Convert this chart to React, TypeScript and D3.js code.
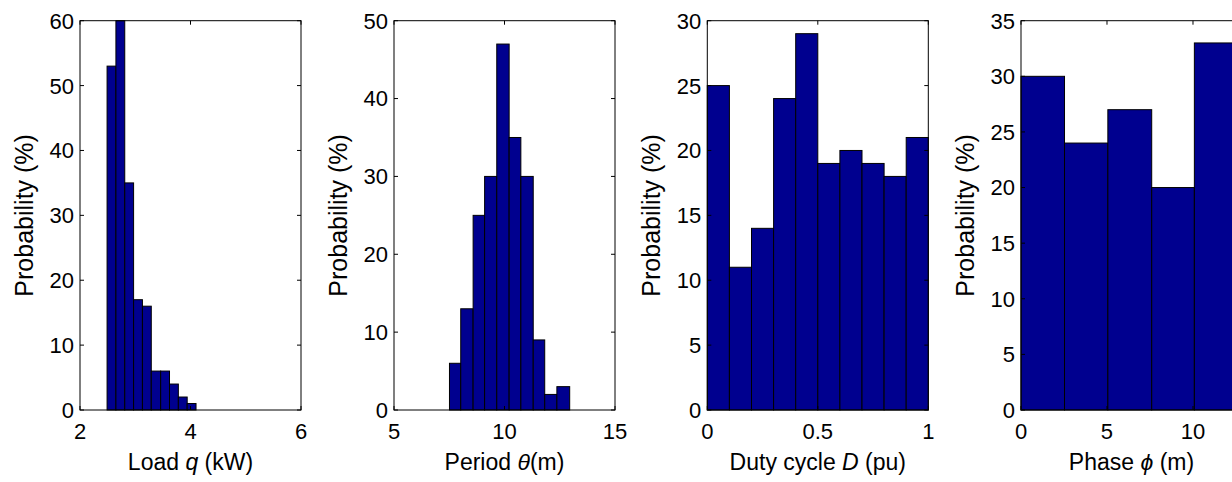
import React from 'react';
import * as d3 from 'd3';

const W = 1232;
const H = 482;

// ---- Data ----
const loadEdges = [2.49, 2.65, 2.81, 2.97, 3.13, 3.29, 3.46, 3.62, 3.78, 3.94, 4.1];
const loadProb = [53, 60, 35, 17, 16, 6, 6, 4, 2, 1];

const periodEdges = [7.51, 8.02, 8.58, 9.1, 9.65, 10.21, 10.74, 11.3, 11.82, 12.37, 12.95];
const periodProb = [6, 13, 25, 30, 47, 35, 30, 9, 2, 3];

const dutyEdges = [0, 0.1, 0.2, 0.3, 0.4, 0.5, 0.6, 0.7, 0.8, 0.9, 1.0];
const dutyProb = [25, 11, 14, 24, 29, 19, 20, 19, 18, 21];

const phaseEdges = [0, 2.53, 5.05, 7.6, 10.08, 12.6];
const phaseProb = [30, 24, 27, 20, 33];

const loadXTicks = [2, 4, 6];
const periodXTicks = [5, 10, 15];
const dutyXTicks = [0, 0.5, 1];
const phaseXTicks = [0, 5, 10];

const loadYTicks = [0, 10, 20, 30, 40, 50, 60];
const periodYTicks = [0, 10, 20, 30, 40, 50];
const dutyYTicks = [0, 5, 10, 15, 20, 25, 30];
const phaseYTicks = [0, 5, 10, 15, 20, 25, 30, 35];

type Panel = {
  edges: number[];
  values: number[];
  xDomain: [number, number];
  xTicks: number[];
  yTicks: number[];
  yMax: number;
  label: [string, string, string];
};

const panels: Panel[] = [
  { edges: loadEdges, values: loadProb, xDomain: [2, 6], xTicks: loadXTicks, yTicks: loadYTicks, yMax: 60, label: ['Load ', 'q', ' (kW)'] },
  { edges: periodEdges, values: periodProb, xDomain: [5, 15], xTicks: periodXTicks, yTicks: periodYTicks, yMax: 50, label: ['Period ', 'θ', '(m)'] },
  { edges: dutyEdges, values: dutyProb, xDomain: [0, 1], xTicks: dutyXTicks, yTicks: dutyYTicks, yMax: 30, label: ['Duty cycle ', 'D', ' (pu)'] },
  { edges: phaseEdges, values: phaseProb, xDomain: [0, 12.85], xTicks: phaseXTicks, yTicks: phaseYTicks, yMax: 35, label: ['Phase ', 'ϕ', ' (m)'] },
];

// ---- Layout ----
const panelLefts = [80, 394, 707.3, 1021];
const panelW = 221;
const top = 20.7;
const bottom = 410;
const tickLen = 4;
const font = 'Liberation Sans, Arial, Helvetica, sans-serif';
const barFill = '#00008F';
const tickFont = 22;
const xLabelFont = 23;
const yLabelFont = 25;

function HistPanel({ p, left }: { p: Panel; left: number }) {
  const x = d3.scaleLinear().domain(p.xDomain).range([left, left + panelW]);
  const y = d3.scaleLinear().domain([0, p.yMax]).range([bottom, top]);
  const fmt = (v: number) => String(v);
  return (
    <g>
      {p.values.map((v, i) => (
        <rect
          key={i}
          x={x(p.edges[i])}
          y={y(v)}
          width={x(p.edges[i + 1]) - x(p.edges[i])}
          height={y(0) - y(v)}
          fill={barFill}
          stroke="#000"
          strokeWidth={1}
        />
      ))}
      <rect x={left} y={top} width={panelW} height={bottom - top} fill="none" stroke="#000" strokeWidth={1} />
      {p.yTicks.map((t) => (
        <g key={'y' + t}>
          <line x1={left} x2={left + tickLen} y1={y(t)} y2={y(t)} stroke="#000" />
          <line x1={left + panelW} x2={left + panelW - tickLen} y1={y(t)} y2={y(t)} stroke="#000" />
          <text x={left - 6} y={y(t)} dy="0.36em" textAnchor="end" fontSize={tickFont} fontFamily={font} fill="#000">
            {fmt(t)}
          </text>
        </g>
      ))}
      {p.xTicks.map((t) => (
        <g key={'x' + t}>
          <line x1={x(t)} x2={x(t)} y1={bottom} y2={bottom - tickLen} stroke="#000" />
          <line x1={x(t)} x2={x(t)} y1={top} y2={top + tickLen} stroke="#000" />
          <text x={x(t)} y={439} textAnchor="middle" fontSize={tickFont} fontFamily={font} fill="#000">
            {fmt(t)}
          </text>
        </g>
      ))}
      <text x={left + panelW / 2} y={470} textAnchor="middle" fontSize={xLabelFont} fontFamily={font} fill="#000">
        {p.label[0]}
        <tspan fontStyle="italic">{p.label[1]}</tspan>
        {p.label[2]}
      </text>
      <text
        transform={`translate(${left - 47},${(top + bottom) / 2}) rotate(-90)`}
        textAnchor="middle"
        fontSize={yLabelFont}
        fontFamily={font}
        fill="#000"
      >
        Probability (%)
      </text>
    </g>
  );
}

export default function App() {
  return (
    <svg
      width={W}
      height={H}
      style={{ position: 'absolute', left: 0, top: 0, background: '#fff' }}
    >
      <rect width={W} height={H} fill="#fff" />
      {panels.map((p, i) => (
        <HistPanel key={i} p={p} left={panelLefts[i]} />
      ))}
    </svg>
  );
}
